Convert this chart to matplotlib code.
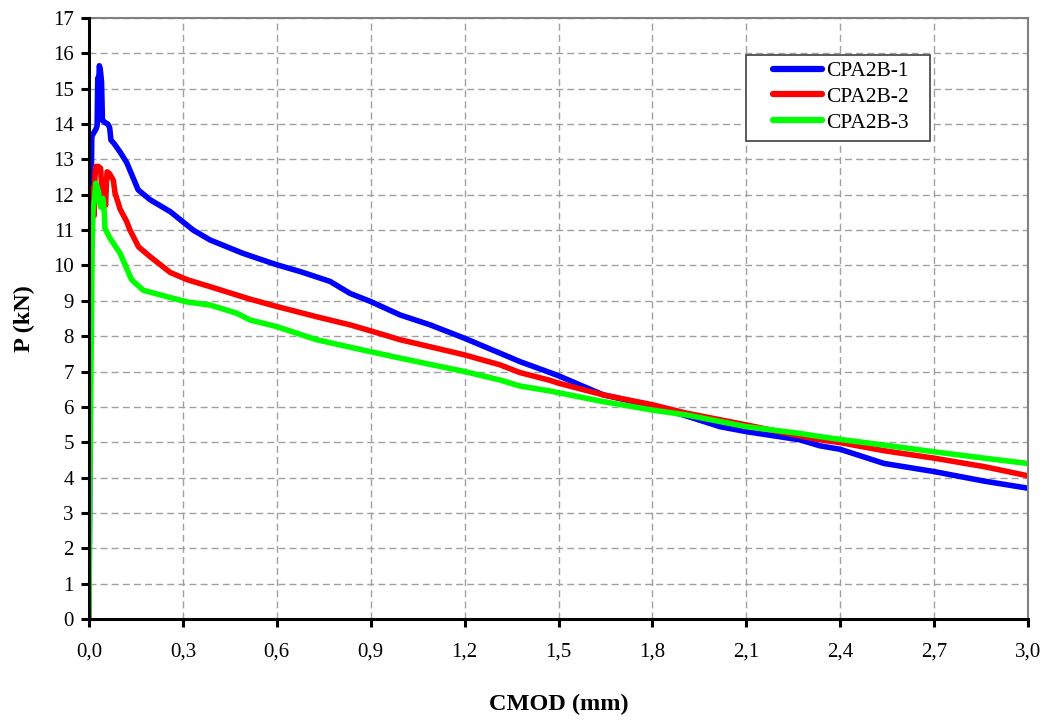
import matplotlib
matplotlib.use("Agg")
import matplotlib.pyplot as plt
from matplotlib.patches import Rectangle

# CMOD (mm) vs load P (kN) for three specimens
cmod_1 = [0, 0.002, 0.004, 0.006, 0.009, 0.015, 0.022, 0.026, 0.028, 0.031, 0.033, 0.036,
          0.040, 0.043, 0.050, 0.060, 0.066, 0.070, 0.080, 0.10, 0.121, 0.157, 0.195, 0.26,
          0.333, 0.387, 0.49, 0.546, 0.6, 0.674, 0.77, 0.834, 0.9, 0.994, 1.09, 1.2, 1.313,
          1.377, 1.473, 1.5, 1.643, 1.8, 1.91, 2.016, 2.1, 2.27, 2.335, 2.4, 2.54, 2.7,
          2.86, 3.0]
load_1 = [0, 3.5, 8, 11.5, 13.65, 13.75, 13.85, 13.95, 15.3, 15.1, 15.65, 15.55,
          15.2, 14.1, 14.05, 14.0, 13.9, 13.55, 13.45, 13.2, 12.9, 12.14, 11.86, 11.52,
          11.0, 10.72, 10.35, 10.18, 10.02, 9.83, 9.55, 9.21, 8.98, 8.6, 8.32, 7.94, 7.52,
          7.28, 6.97, 6.88, 6.34, 6.03, 5.74, 5.44, 5.3, 5.07, 4.9, 4.8, 4.4, 4.17,
          3.9, 3.7]

cmod_2 = [0, 0.001, 0.002, 0.003, 0.006, 0.0085, 0.012, 0.016, 0.019, 0.022, 0.03, 0.037,
          0.04, 0.046, 0.053, 0.056, 0.058, 0.065, 0.072, 0.078, 0.083, 0.094, 0.099, 0.12,
          0.131, 0.158, 0.195, 0.26, 0.313, 0.387, 0.47, 0.514, 0.6, 0.727, 0.834, 0.9,
          0.994, 1.1, 1.2, 1.313, 1.377, 1.473, 1.5, 1.643, 1.8, 1.91, 2.1, 2.27, 2.335,
          2.4, 2.54, 2.7, 2.86, 3.0]
load_2 = [0, 3, 6, 9.0, 11.0, 12.05, 12.2, 11.4, 12.5, 12.8, 12.8, 12.75,
          12.3, 12.0, 11.7, 12.4, 12.65, 12.6, 12.5, 12.4, 12.05, 11.75, 11.6, 11.25,
          11.0, 10.53, 10.25, 9.8, 9.6, 9.4, 9.17, 9.05, 8.84, 8.55, 8.32, 8.15,
          7.9, 7.68, 7.47, 7.19, 6.97, 6.75, 6.67, 6.34, 6.06, 5.82, 5.49, 5.18, 5.07,
          4.99, 4.76, 4.55, 4.31, 4.05]

cmod_3 = [0, 0.001, 0.002, 0.004, 0.006, 0.008, 0.01, 0.013, 0.017, 0.022, 0.03, 0.034,
          0.037, 0.044, 0.049, 0.051, 0.067, 0.099, 0.136, 0.173, 0.227, 0.312, 0.387,
          0.472, 0.514, 0.6, 0.727, 0.9, 0.994, 1.2, 1.313, 1.377, 1.473, 1.5, 1.643, 1.8,
          1.91, 2.1, 2.27, 2.335, 2.4, 2.54, 2.7, 2.86, 3.0]
load_3 = [0, 1.5, 3.5, 5.0, 7.0, 8.6, 10.5, 11.6, 11.85, 12.33, 12.1, 11.8,
          11.65, 11.9, 11.5, 11.05, 10.77, 10.35, 9.6, 9.3, 9.17, 8.97, 8.88,
          8.65, 8.46, 8.27, 7.9, 7.56, 7.38, 7.0, 6.76, 6.59, 6.45, 6.4, 6.15, 5.91,
          5.77, 5.44, 5.25, 5.16, 5.08, 4.92, 4.73, 4.55, 4.4]

series_names = ["CPA2B-1", "CPA2B-2", "CPA2B-3"]
series_colors = ["#0000FF", "#FF0000", "#00FF00"]

x_ticks = [0.0, 0.3, 0.6, 0.9, 1.2, 1.5, 1.8, 2.1, 2.4, 2.7, 3.0]
x_tick_labels = ["0,0", "0,3", "0,6", "0,9", "1,2", "1,5", "1,8", "2,1", "2,4", "2,7", "3,0"]
y_ticks = list(range(0, 18))

plt.rcParams["font.family"] = ["Liberation Serif", "DejaVu Serif"]

W, H = 1047, 720
fig = plt.figure(figsize=(W / 100, H / 100), dpi=100)
ax = fig.add_axes([89 / W, 101 / H, (1028 - 89) / W, (619 - 18) / H])

for xs, ys, name, col in zip([cmod_1, cmod_2, cmod_3], [load_1, load_2, load_3],
                             series_names, series_colors):
    ax.plot(xs, ys, color=col, lw=4.0, label=name, solid_joinstyle="round",
            solid_capstyle="butt")

ax.set_xlim(0, 3.0)
ax.set_ylim(0, 17)
ax.set_xticks(x_ticks)
ax.set_xticklabels(x_tick_labels)
ax.set_yticks(y_ticks)

ax.grid(True, color="#A0A0A0", lw=1.0, linestyle=(0, (5, 3)))
ax.set_axisbelow(True)

for side in ("top", "right"):
    ax.spines[side].set_color("#808080")
    ax.spines[side].set_linewidth(1.5)
for side in ("left", "bottom"):
    ax.spines[side].set_color("black")
    ax.spines[side].set_linewidth(2.2)
    ax.spines[side].set_zorder(5)

ax.tick_params(axis="both", direction="out", length=6, width=2.2, color="black",
               labelsize=15, pad=5)
ax.tick_params(axis="x", pad=11)

ax.set_xlabel("CMOD (mm)", fontsize=17.5, fontweight="bold", labelpad=23)
ax.set_ylabel("P (kN)", fontsize=17.5, fontweight="bold", labelpad=13)

# legend panel: white framed box, entries drawn on top of it
box = Rectangle((746 / W, 1 - 141 / H), 184 / W, 86 / H, transform=fig.transFigure,
                facecolor="white", edgecolor="#404040", lw=1.2, zorder=6, clip_on=False)
ax.add_patch(box)

leg = ax.legend(loc="upper left", bbox_to_anchor=(773 / W, 1 - 61 / H),
                bbox_transform=fig.transFigure, fontsize=15.5, frameon=False,
                handlelength=2.28, handletextpad=0.2, labelspacing=0.27,
                borderpad=0, borderaxespad=0)
leg.set_zorder(7)
for h in leg.get_lines():
    h.set_linewidth(4.5)
    h.set_solid_capstyle("round")

fig.savefig("out.png", dpi=100)
